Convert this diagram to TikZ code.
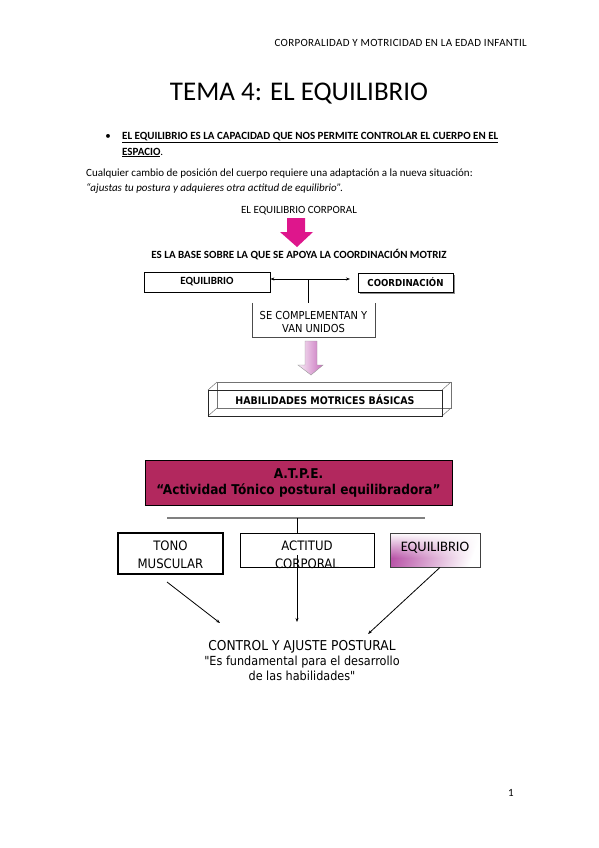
\documentclass[tikz,border=0pt]{standalone}
\usepackage{fontspec}
\setmainfont{Carlito}
\newfontfamily\tah[FakeStretch=0.9]{DejaVu Sans}
\usetikzlibrary{arrows.meta,fadings}
\definecolor{mag}{RGB}{222,22,140}
\definecolor{atpe}{RGB}{178,40,94}
\definecolor{pinkA}{RGB}{200,110,188}
\definecolor{eqpink}{RGB}{185,85,168}
\begin{document}
\begin{tikzpicture}[x=1pt,y=-1pt,
  txt/.style={inner sep=0pt, anchor=base},
  txtw/.style={inner sep=0pt, anchor=base west},
  body/.style={font=\fontsize{11}{13}\selectfont},
  bodyb/.style={font=\fontsize{11}{13}\selectfont\bfseries},
  bodyi/.style={font=\fontsize{11}{13}\selectfont\itshape},
  tb/.style={font=\tah\fontsize{13}{15}\selectfont},
  box/.style={draw=black, line width=0.8pt, inner sep=0pt},
  conn/.style={draw=black, line width=0.8pt},
  arr/.style={-{Stealth[length=4pt,width=3pt]}, line width=0.8pt}]
\useasboundingbox (0,0) rectangle (599,848);
% header and title
\node[inner sep=0pt, anchor=base east, font=\fontsize{11}{13}\selectfont\addfontfeature{LetterSpace=3}] (hdr) at (527,46.5) {CORPORALIDAD Y MOTRICIDAD EN LA EDAD INFANTIL};
\node[txt, font=\fontsize{27}{32}\selectfont] (title) at (299,101) {TEMA 4: EL EQUILIBRIO};
% bullet
\node[txt, body] (bul) at (108,139.5) {\textbullet};
\node[txtw, bodyb] (b1) at (122,139.5) {\underline{EL EQUILIBRIO ES LA CAPACIDAD QUE NOS PERMITE CONTROLAR EL CUERPO EN EL}};
\node[txtw, bodyb] (b2) at (122,155) {\underline{ESPACIO}\mdseries.};
\node[txtw, body] (p1) at (86,176) {Cualquier cambio de posición del cuerpo requiere una adaptación a la nueva situación:};
\node[txtw, bodyi] (p2) at (86,191) {“ajustas tu postura y adquieres otra actitud de equilibrio”.};
\node[txt, body] (corp) at (299,213.5) {EL EQUILIBRIO CORPORAL};
% magenta arrow
\fill[mag] (287,218) -- (305,218) -- (305,232) -- (313,232) -- (297,247) -- (280,232) -- (287,232) -- cycle;
\node[txt, bodyb] (base) at (299,258.5) {ES LA BASE SOBRE LA QUE SE APOYA LA COORDINACIÓN MOTRIZ};
% equilibrio / coordinacion
\node[box, minimum width=126pt, minimum height=20pt, bodyb] (eq1) at (207,282) {EQUILIBRIO};
\fill[black!45] (360,275) rectangle (455,294);
\node[box, fill=white, line width=0.6pt, minimum width=95pt, minimum height=19pt, font=\tah\fontsize{9.6}{11}\selectfont\bfseries] (coord) at (405.5,282.5) {COORDINACIÓN};
\coordinate (dr) at (350,279);
\draw[conn, {Stealth[length=4pt,width=3pt]}-{Stealth[length=4pt,width=3pt]}] (eq1.east |- dr) -- (dr);
\coordinate (jn) at (308,279);
\node[inner sep=0pt, minimum width=123pt, minimum height=34pt] (se) at (313.5,320) {};
\draw[conn] (jn) -- (jn |- se.north);
\node[txt, font=\tah\fontsize{11}{13}\selectfont] (se1) at (313.5,319) {SE COMPLEMENTAN Y};
\node[txt, font=\tah\fontsize{11}{13}\selectfont] (se2) at (313.5,332.5) {VAN UNIDOS};
\draw[line width=0.6pt, black!70] (se.north west) -- (se.south west) -- (se.south east) -- (se.north east);
% pink gradient arrow
\shade[left color=pinkA!12, right color=pinkA, draw=black!40, line width=0.4pt] (305,341) -- (317,341) -- (317,365) -- (323,365) -- (311,375) -- (298,365) -- (305,365) -- cycle;
% 3D box
\draw[black!55, line width=0.5pt] (217,382) rectangle (451,408);
\draw[black!55, line width=0.5pt] (208,390) -- (217,382) (442,390) -- (451,382) (442,416) -- (451,408) (208,416) -- (217,408);
\node[draw=black!85, line width=0.7pt, inner sep=0pt, minimum width=234pt, minimum height=26pt] (hab) at (325,403) {};
\node[txt, font=\tah\fontsize{10.5}{12}\selectfont\bfseries] (habt) at (325,404) {HABILIDADES MOTRICES BÁSICAS};
% ATPE
\node[box, fill=atpe, minimum width=307pt, minimum height=45pt] (atpe) at (298.5,482.5) {};
\node[txt, font=\tah\fontsize{13.5}{16}\selectfont\bfseries] (atpe1) at (298.5,478) {A.T.P.E.};
\node[txt, font=\tah\fontsize{13.5}{16}\selectfont\bfseries] (atpe2) at (298.5,494) {“Actividad Tónico postural equilibradora”};
\coordinate (gl) at (167,518);
\coordinate (gr) at (425,518);
\draw[black!50, line width=1.3pt] (gl) -- (gr);
\coordinate (gm) at (297,518);
% three boxes
\node[box, line width=1.4pt, minimum width=105pt, minimum height=41pt] (tono) at (170.5,553.5) {};
\node[txt, tb] (tono1) at (170.5,550) {TONO};
\node[txt, tb] (tono2) at (170.5,568) {MUSCULAR};
\node[box, minimum width=134pt, minimum height=34pt] (act) at (307,550) {};
\node[txt, tb] (act1) at (307,550) {ACTITUD};
\node[txt, tb] (act2) at (307,568) {CORPORAL};
\draw[conn] (gm) -- (gm |- act.north);
\shade[left color=eqpink, right color=white, shading angle=70] (390,533) rectangle (480,567);
\fill[white, path fading=south] (390,533) rectangle (480,558);
\node[draw=black!75, line width=0.8pt, inner sep=0pt, minimum width=90pt, minimum height=34pt] (eq2) at (435,550) {};
\node[txt, font=\fontsize{14.5}{16}\selectfont] (eq2t) at (435,551) {EQUILIBRIO};
% arrows to control
\coordinate (t1) at (167,582);
\coordinate (t2) at (220,623);
\draw[arr] (t1) -- (t2);
\coordinate (a1) at (297,555);
\coordinate (a2) at (297,622);
\draw[arr] (a1) -- (a2);
\draw[arr] (eq2.south -| 440,0) -- (368,634);
% bottom text
\node[txt, font=\tah\fontsize{13.6}{15}\selectfont] (ctrl) at (302,650) {CONTROL Y AJUSTE POSTURAL};
\node[txt, font=\tah\fontsize{12.5}{15}\selectfont] (fund) at (302,665.5) {"Es fundamental para el desarrollo};
\node[txt, font=\tah\fontsize{12.5}{15}\selectfont] (hab2) at (302,680.5) {de las habilidades"};
% page number
\node[txt, body] (pg) at (511,796) {1};
\end{tikzpicture}
\end{document}
